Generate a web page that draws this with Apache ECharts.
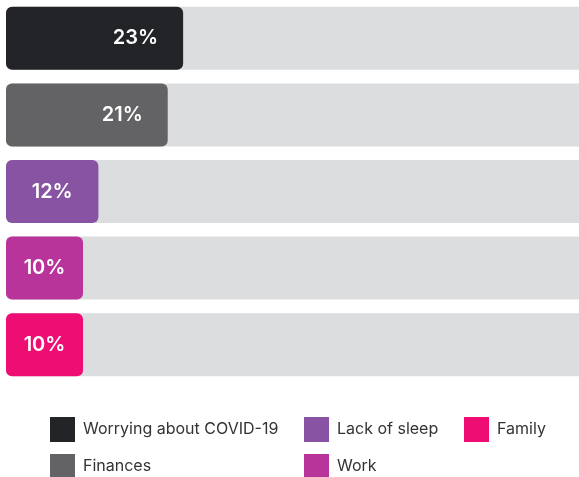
<!DOCTYPE html>
<html><head><meta charset="utf-8">
<script src="https://cdn.jsdelivr.net/npm/echarts@6/dist/echarts.min.js"></script>
<style>html,body{margin:0;padding:0;background:#fff}#c{width:579px;height:477px}</style>
</head><body><div id="c"></div>
<script>
const categories = ['Worrying about COVID-19', 'Finances', 'Lack of sleep', 'Work', 'Family'];
const values = [23, 21, 12, 10, 10];
const colors = ['#232428', '#636365', '#8753A2', '#B8339A', '#EE0E73'];
const labelPos = ['insideRight', 'insideRight', 'inside', 'inside', 'inside'];
const fullValue = 100;
const legendLeft = [50, 50, 304, 304, 464];
const legendTop = [417, 454, 417, 454, 417];

const chart = echarts.init(document.getElementById('c'));
const series = [{
  name: 'bg', type: 'bar', data: categories.map(() => fullValue),
  barWidth: 63, barGap: '-100%', silent: true,
  itemStyle: { color: '#DCDDDF', borderRadius: [6, 0, 0, 6] }, z: 1
}];
categories.forEach((c, i) => {
  series.push({
    name: c, type: 'bar', stack: 'total', barWidth: 63,
    data: categories.map((_, j) => j === i ? values[i] : '-'),
    itemStyle: { color: colors[i], borderRadius: 6 },
    label: {
      show: true, position: labelPos[i], distance: 25,
      formatter: '{c}%', color: '#fff', fontFamily: 'Inter', fontWeight: 600, fontSize: 20
    },
    z: 2
  });
});
const legends = categories.map((c, i) => ({
  orient: 'horizontal', itemWidth: 25, itemHeight: 25, icon: 'rect', padding: 0,
  left: legendLeft[i], top: legendTop[i], data: [c],
  textStyle: { fontFamily: 'Inter', fontSize: 16, color: '#333', padding: [0, 0, 0, 3] }
}));
chart.setOption({
  animation: false,
  grid: { left: 6, right: 0, top: -1, height: 384 },
  xAxis: { type: 'value', min: 0, max: 74.4, show: false },
  yAxis: { type: 'category', data: categories, inverse: true, show: false },
  legend: legends,
  series: series
});
</script></body></html>
